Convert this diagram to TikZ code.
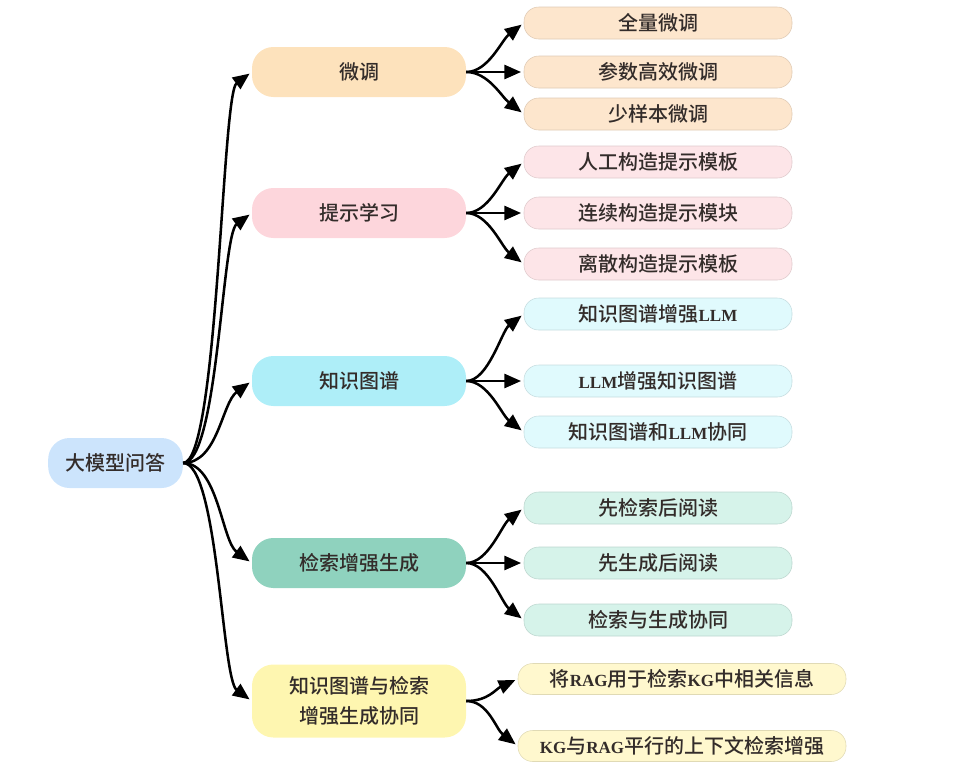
\documentclass[tikz,border=0pt]{standalone}
\usepackage{fontspec}
\setmainfont{Noto Sans CJK SC}[UprightFont={* Medium}]
\newfontfamily\latin[Scale=0.85]{Liberation Serif}
\usetikzlibrary{arrows.meta}
\definecolor{inkgrey}{HTML}{332C2A}
\definecolor{rootblue}{HTML}{CCE4FC}
\definecolor{ftorange}{HTML}{FDE2BC}
\definecolor{plpink}{HTML}{FDD6DC}
\definecolor{kgcyan}{HTML}{AEEEF8}
\definecolor{raggreen}{HTML}{8FD2BE}
\definecolor{kryellow}{HTML}{FEF6B0}
\definecolor{ftleaf}{HTML}{FDE6CD}
\definecolor{plleaf}{HTML}{FDE5E8}
\definecolor{kgleaf}{HTML}{E0FAFD}
\definecolor{ragleaf}{HTML}{D6F3EA}
\definecolor{krleaf}{HTML}{FFF8CE}
\newcommand{\lat}[1]{{\latin\bfseries #1}}

\begin{document}
\begin{tikzpicture}[x=0.75pt, y=-0.75pt,
	every node/.style={text=inkgrey, inner sep=0pt, font=\fontsize{15}{22.5}\selectfont},
	rootbox/.style={fill=#1, rounded corners=16pt, minimum width=101pt, minimum height=37.5pt},
	mainbox/.style={fill=#1, rounded corners=16pt, minimum width=160.5pt, minimum height=37.5pt},
	leafbox/.style={fill=#1, draw=#1!88!black, line width=0.4pt, rounded corners=11pt, minimum width=201pt, minimum height=24pt},
	branch/.style={draw=black, line width=1.9pt, shorten >=2pt, -{Triangle[length=12.5pt,width=10.5pt]}}]
			%%%%% START %%%%%
			
			\useasboundingbox (0, 0) rectangle (978, 768);
			
			\node[rootbox=rootblue] (qa) at (115.5, 463) {大模型问答};
			
			\node[mainbox=ftorange] (ft) at (359, 72) {微调};
			\node[mainbox=plpink] (pl) at (359, 213) {提示学习};
			\node[mainbox=kgcyan] (kg) at (359, 381) {知识图谱};
			\node[mainbox=raggreen] (rag) at (359, 563) {检索增强生成};
			\node[mainbox=kryellow, minimum height=54.75pt, align=center] (kr) at (359, 701) {知识图谱与检索\\增强生成协同};
			
			\node[leafbox=ftleaf] (ft1) at (658, 23) {全量微调};
			\node[leafbox=ftleaf] (ft2) at (658, 72) {参数高效微调};
			\node[leafbox=ftleaf] (ft3) at (658, 114) {少样本微调};
			
			\node[leafbox=plleaf] (pl1) at (658, 162) {人工构造提示模板};
			\node[leafbox=plleaf] (pl2) at (658, 213) {连续构造提示模块};
			\node[leafbox=plleaf] (pl3) at (658, 264) {离散构造提示模板};
			
			\node[leafbox=kgleaf] (kg1) at (658, 314) {知识图谱增强\lat{LLM}};
			\node[leafbox=kgleaf] (kg2) at (658, 381) {\lat{LLM}增强知识图谱};
			\node[leafbox=kgleaf] (kg3) at (658, 432) {知识图谱和\lat{LLM}协同};
			
			\node[leafbox=ragleaf] (rag1) at (658, 508) {先检索后阅读};
			\node[leafbox=ragleaf] (rag2) at (658, 563) {先生成后阅读};
			\node[leafbox=ragleaf] (rag3) at (658, 620) {检索与生成协同};
			
			\node[leafbox=krleaf, minimum width=246pt, minimum height=23.25pt] (kr1) at (682, 679) {将\lat{RAG}用于检索\lat{KG}中相关信息};
			\node[leafbox=krleaf, minimum width=246pt, minimum height=23.25pt] (kr2) at (682, 746) {\lat{KG}与\lat{RAG}平行的上下文检索增强};
			
			\draw[branch] (qa.east) .. controls +(35, 0) and +(-30, 22) .. (ft.west);
			\draw[branch] (qa.east) .. controls +(35, 0) and +(-30, 22) .. (pl.west);
			\draw[branch] (qa.east) .. controls +(35, 0) and +(-30, 22) .. (kg.west);
			\draw[branch] (qa.east) .. controls +(35, 0) and +(-30, -22) .. (rag.west);
			\draw[branch] (qa.east) .. controls +(35, 0) and +(-30, -22) .. (kr.west);
			
			\draw[branch] (ft.east) .. controls +(22, 0) and +(-22, 17) .. (ft1.west);
			\draw[branch] (ft.east) -- (ft2.west);
			\draw[branch] (ft.east) .. controls +(22, 0) and +(-22, -17) .. (ft3.west);
			
			\draw[branch] (pl.east) .. controls +(22, 0) and +(-22, 17) .. (pl1.west);
			\draw[branch] (pl.east) -- (pl2.west);
			\draw[branch] (pl.east) .. controls +(22, 0) and +(-22, -17) .. (pl3.west);
			
			\draw[branch] (kg.east) .. controls +(22, 0) and +(-22, 17) .. (kg1.west);
			\draw[branch] (kg.east) -- (kg2.west);
			\draw[branch] (kg.east) .. controls +(22, 0) and +(-22, -17) .. (kg3.west);
			
			\draw[branch] (rag.east) .. controls +(22, 0) and +(-22, 17) .. (rag1.west);
			\draw[branch] (rag.east) -- (rag2.west);
			\draw[branch] (rag.east) .. controls +(22, 0) and +(-22, -17) .. (rag3.west);
			
			\draw[branch] (kr.east) .. controls +(22, 0) and +(-22, 10) .. (kr1.west);
			\draw[branch] (kr.east) .. controls +(22, 0) and +(-22, -17) .. (kr2.west);
			
			%%%%% END %%%%%
		\end{tikzpicture}
\end{document}
